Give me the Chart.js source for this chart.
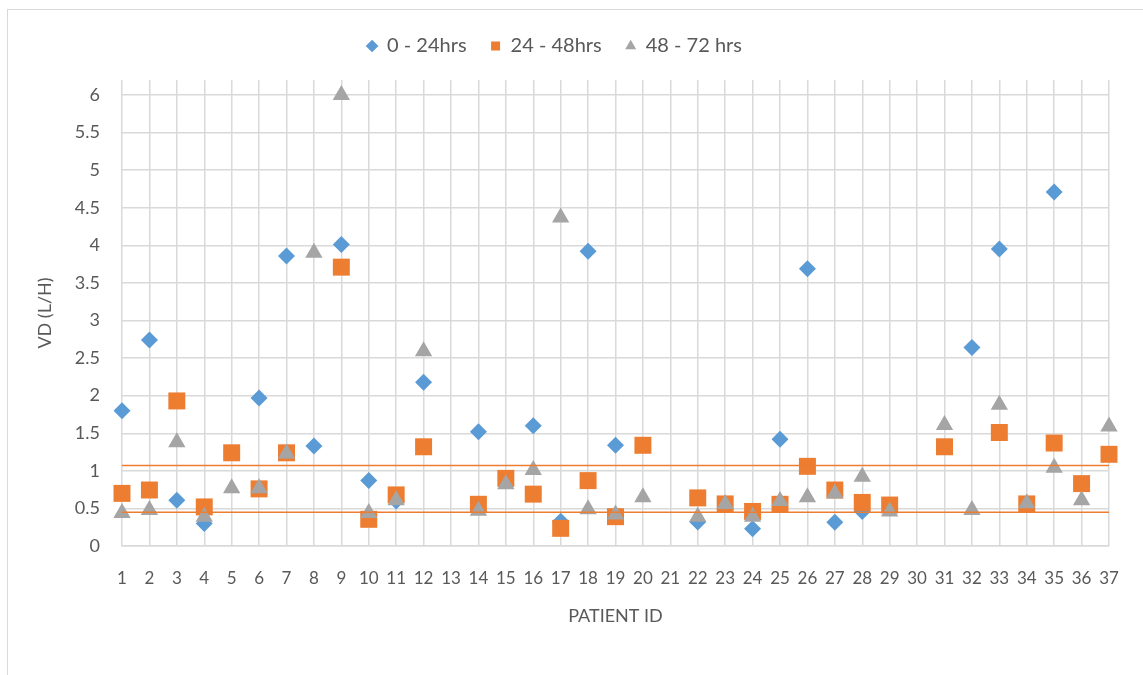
<!DOCTYPE html>
<html>
<head>
<meta charset="utf-8">
<script src="https://cdn.jsdelivr.net/npm/chart.js@4"></script>
<style>
  body { margin: 0; background: #fff; overflow: hidden; }
  #wrap { position: relative; width: 1143px; height: 675px; }
  #frame { position: absolute; left: 7px; top: 9px; width: 1150px; height: 700px; border: 1.5px solid #d9d9d9; box-sizing: border-box; }
  canvas { position: absolute; left: 0; top: 0; }
</style>
</head>
<body>
<div id="wrap">
  <div id="frame"></div>
  <canvas id="vdChart" width="1143" height="675"></canvas>
</div>
<script>
    // Patient IDs 1 - 37
    const patients = ["1","2","3","4","5","6","7","8","9","10","11","12","13","14","15","16","17","18","19",
        "20","21","22","23","24","25","26","27","28","29","30","31","32","33","34","35","36","37"];

    // VD (L/H) per tidsintervall
    const vd0to24 = [1.80, 2.74, 0.61, 0.30, null, 1.97, 3.86, 1.33, 4.01, 0.87, 0.60, 2.18, null, 1.52, null, 1.60, 0.33, 3.92, 1.34,
        null, null, 0.32, null, 0.23, 1.42, 3.69, 0.315, 0.46, null, null, null, 2.64, 3.95, null, 4.71, null, null];
    const vd24to48 = [0.70, 0.745, 1.93, 0.52, 1.24, 0.76, 1.24, null, 3.71, 0.355, 0.68, 1.32, null, 0.555, 0.90, 0.69, 0.235, 0.87, 0.39,
        1.34, null, 0.64, 0.56, 0.46, 0.555, 1.06, 0.745, 0.58, 0.545, null, 1.32, null, 1.51, 0.56, 1.37, 0.83, 1.22];
    const vd48to72 = [0.44, 0.48, 1.38, 0.39, 0.77, 0.77, 1.23, 3.90, 6.00, 0.44, 0.61, 2.59, null, 0.47, 0.82, 1.01, 4.37, 0.49, 0.42,
        0.65, null, 0.39, 0.56, 0.39, 0.60, 0.65, 0.70, 0.92, 0.46, null, 1.61, 0.48, 1.88, 0.57, 1.04, 0.61, 1.59];

    // Referanselinjer
    const upperLimit = 1.07;
    const lowerLimit = 0.45;

    const textColor = '#595959';
    const gridColor = '#d9d9d9';
    const fontFamily = 'Lato, "Liberation Sans", sans-serif';

    // ekstra plass under legenden
    const legendSpacing = {
        id: 'legendSpacing',
        beforeInit(chart) {
            const origFit = chart.legend.fit;
            chart.legend.fit = function () {
                origFit.bind(chart.legend)();
                this.height += 14;
            };
        }
    };

    const ctx = document.getElementById('vdChart').getContext('2d');
    new Chart(ctx, {
        type: 'line',
        data: {
            labels: patients,
            datasets: [
                {
                    label: '0 - 24hrs',
                    data: vd0to24,
                    showLine: false,
                    pointStyle: 'rectRot',
                    pointRadius: 8.5,
                    pointHoverRadius: 8.5,
                    backgroundColor: '#5b9bd5',
                    borderColor: '#5b9bd5',
                    borderWidth: 0,
                    order: 3
                },
                {
                    label: '24 - 48hrs',
                    data: vd24to48,
                    showLine: false,
                    pointStyle: 'rect',
                    pointRadius: 12,
                    pointHoverRadius: 12,
                    backgroundColor: '#ed7d31',
                    borderColor: '#ed7d31',
                    borderWidth: 0,
                    order: 2
                },
                {
                    label: '48 - 72 hrs',
                    data: vd48to72,
                    showLine: false,
                    pointStyle: 'triangle',
                    pointRadius: 10,
                    pointHoverRadius: 10,
                    backgroundColor: '#a5a5a5',
                    borderColor: '#a5a5a5',
                    borderWidth: 0,
                    order: 1
                },
                {
                    label: 'upper',
                    data: patients.map(() => upperLimit),
                    borderColor: '#ed7d31',
                    borderWidth: 1.5,
                    pointRadius: 0,
                    fill: false,
                    order: 0
                },
                {
                    label: 'lower',
                    data: patients.map(() => lowerLimit),
                    borderColor: '#ed7d31',
                    borderWidth: 1.5,
                    pointRadius: 0,
                    fill: false,
                    order: 0
                }
            ]
        },
        options: {
            responsive: false,
            animation: false,
            layout: { padding: { top: 12, left: 0, right: 34, bottom: 48 } },
            plugins: {
                tooltip: { enabled: false },
                legend: {
                    position: 'top',
                    labels: {
                        usePointStyle: true,
                        boxWidth: 10,
                        boxHeight: 9,
                        padding: 24,
                        color: textColor,
                        font: { family: fontFamily, size: 20 },
                        filter: (item) => item.datasetIndex < 3,
                        sort: (a, b) => a.datasetIndex - b.datasetIndex
                    }
                }
            },
            scales: {
                x: {
                    offset: false,
                    grid: { color: gridColor, lineWidth: 1.5, drawTicks: false },
                    border: { color: gridColor, width: 1.5 },
                    ticks: {
                        autoSkip: false,
                        maxRotation: 0,
                        padding: 22,
                        color: textColor,
                        font: { family: fontFamily, size: 17 }
                    },
                    title: {
                        display: true,
                        text: 'PATIENT ID',
                        color: textColor,
                        font: { family: fontFamily, size: 18 },
                        padding: { top: 0, bottom: 0 }
                    },
                    afterFit: (scale) => { scale.height = 81; }
                },
                y: {
                    min: 0,
                    max: 6.2,
                    grid: { color: gridColor, lineWidth: 1.5, drawTicks: false },
                    border: { display: false },
                    ticks: {
                        stepSize: 0.5,
                        includeBounds: false,
                        padding: 22,
                        color: textColor,
                        font: { family: fontFamily, size: 18 },
                        callback: (value) => String(Number(value.toFixed(1)))
                    },
                    title: {
                        display: true,
                        text: 'VD (L/H)',
                        color: textColor,
                        font: { family: fontFamily, size: 18 },
                        padding: { top: 34, bottom: 0 }
                    },
                    afterFit: (scale) => { scale.width = 122; }
                }
            }
        },
        plugins: [legendSpacing]
    });
</script>
</body>
</html>
